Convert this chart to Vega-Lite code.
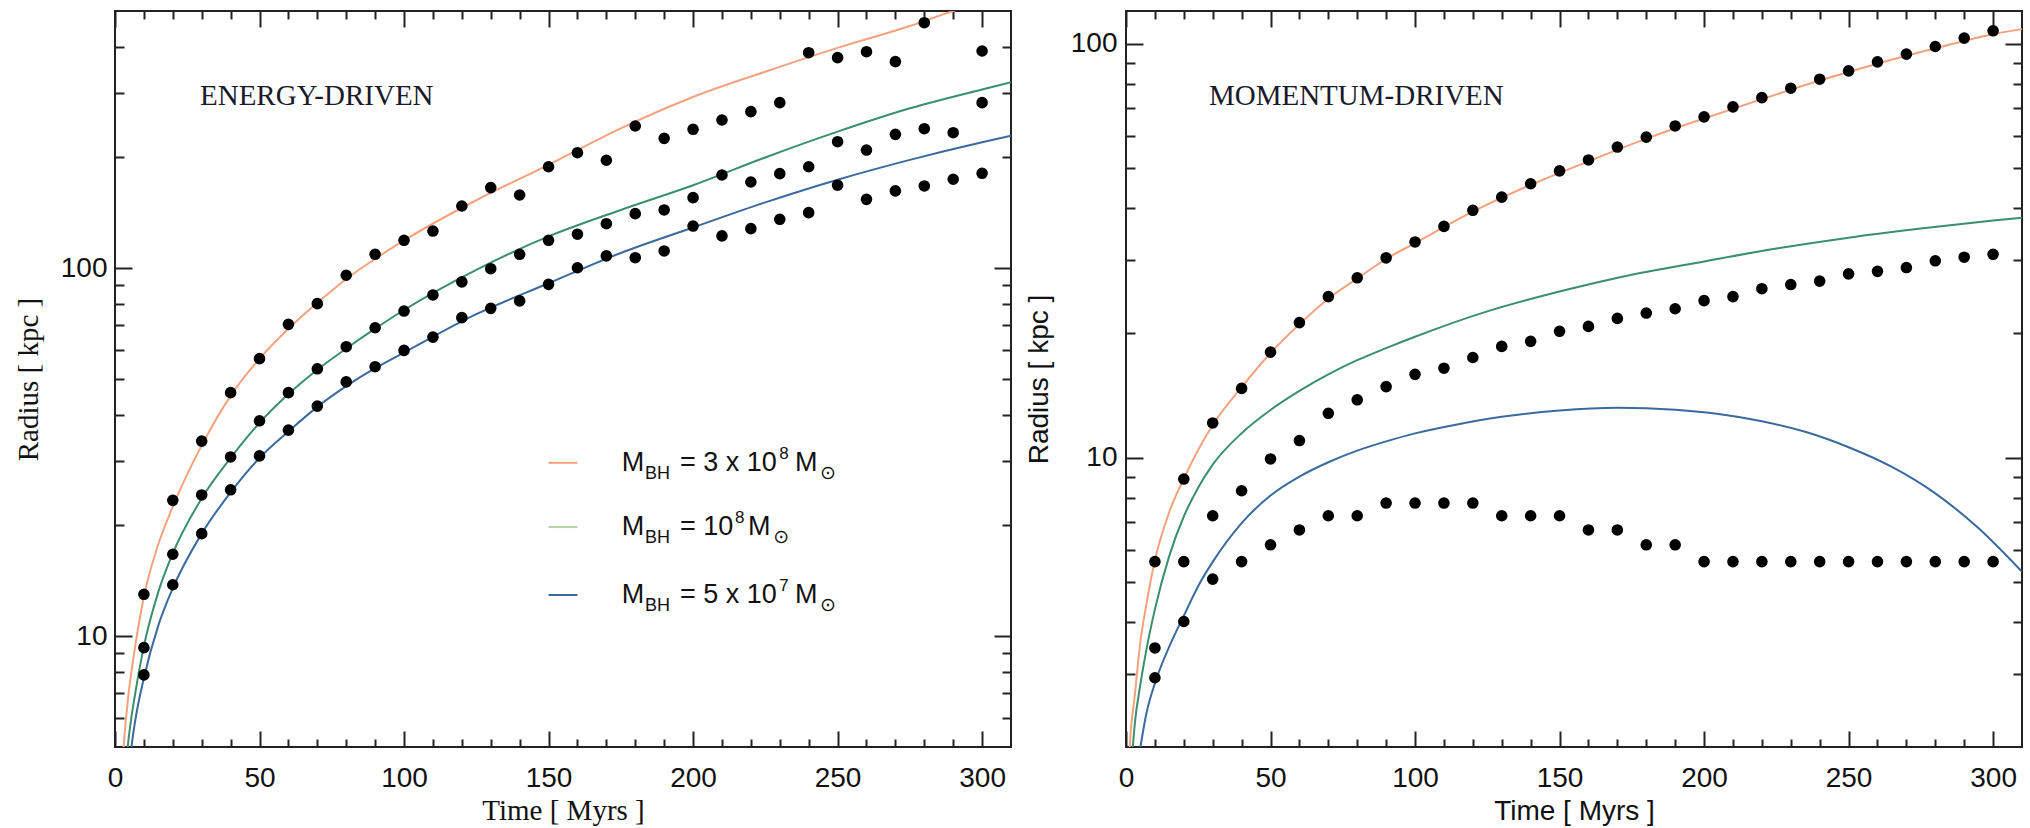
{
  "$schema": "https://vega.github.io/schema/vega-lite/v6.json",
  "padding": {"left": 13, "top": 9, "right": 0, "bottom": 0},
  "background": "white",
  "bounds": "flush",
  "spacing": 115,
  "config": {
    "view": {"stroke": "#222", "strokeWidth": 2},
    "axis": {"domain": false, "grid": false, "ticks": true, "tickColor": "#222", "tickWidth": 2, "labelFont": "Liberation Sans", "labelFontSize": 28, "labelColor": "#111", "titleColor": "#111", "titleFontWeight": "normal", "labelOverlap": false, "labelFlush": false},
    "text": {"font": "Liberation Sans", "color": "#111"}
  },
  "datasets": {
    "curvesE": [
      {"s": "3e8", "t": 2.2, "r": 3.8}, {"s": "3e8", "t": 3, "r": 5}, {"s": "3e8", "t": 4, "r": 6.2}, {"s": "3e8", "t": 5, "r": 7.3}, {"s": "3e8", "t": 7, "r": 9.4}, {"s": "3e8", "t": 10, "r": 12.8}, {"s": "3e8", "t": 15, "r": 17.8}, {"s": "3e8", "t": 20, "r": 22.5}, {"s": "3e8", "t": 30, "r": 33}, {"s": "3e8", "t": 40, "r": 45}, {"s": "3e8", "t": 50, "r": 56.8}, {"s": "3e8", "t": 60, "r": 68.5}, {"s": "3e8", "t": 70, "r": 80.5}, {"s": "3e8", "t": 80, "r": 93.5}, {"s": "3e8", "t": 90, "r": 106}, {"s": "3e8", "t": 100, "r": 119}, {"s": "3e8", "t": 125, "r": 153}, {"s": "3e8", "t": 150, "r": 191}, {"s": "3e8", "t": 175, "r": 240}, {"s": "3e8", "t": 200, "r": 292}, {"s": "3e8", "t": 225, "r": 342}, {"s": "3e8", "t": 250, "r": 397}, {"s": "3e8", "t": 275, "r": 455}, {"s": "3e8", "t": 290, "r": 500}, {"s": "3e8", "t": 310, "r": 550},
      {"s": "1e8", "t": 3.5, "r": 4}, {"s": "1e8", "t": 4.4, "r": 5}, {"s": "1e8", "t": 5, "r": 5.5}, {"s": "1e8", "t": 7, "r": 7.0}, {"s": "1e8", "t": 10, "r": 9.4}, {"s": "1e8", "t": 15, "r": 13.2}, {"s": "1e8", "t": 20, "r": 16.8}, {"s": "1e8", "t": 30, "r": 23.7}, {"s": "1e8", "t": 40, "r": 30.5}, {"s": "1e8", "t": 50, "r": 38}, {"s": "1e8", "t": 60, "r": 45.5}, {"s": "1e8", "t": 70, "r": 53}, {"s": "1e8", "t": 80, "r": 60.5}, {"s": "1e8", "t": 90, "r": 68.5}, {"s": "1e8", "t": 100, "r": 77}, {"s": "1e8", "t": 125, "r": 99}, {"s": "1e8", "t": 150, "r": 122}, {"s": "1e8", "t": 175, "r": 144}, {"s": "1e8", "t": 200, "r": 168}, {"s": "1e8", "t": 225, "r": 200}, {"s": "1e8", "t": 250, "r": 235}, {"s": "1e8", "t": 275, "r": 272}, {"s": "1e8", "t": 300, "r": 306}, {"s": "1e8", "t": 310, "r": 320},
      {"s": "5e7", "t": 4.8, "r": 4.2}, {"s": "5e7", "t": 5.7, "r": 5}, {"s": "5e7", "t": 7, "r": 5.9}, {"s": "5e7", "t": 10, "r": 7.7}, {"s": "5e7", "t": 15, "r": 10.7}, {"s": "5e7", "t": 20, "r": 13.5}, {"s": "5e7", "t": 30, "r": 19}, {"s": "5e7", "t": 40, "r": 24.6}, {"s": "5e7", "t": 50, "r": 30.5}, {"s": "5e7", "t": 60, "r": 36}, {"s": "5e7", "t": 70, "r": 42}, {"s": "5e7", "t": 80, "r": 47.8}, {"s": "5e7", "t": 90, "r": 53.5}, {"s": "5e7", "t": 100, "r": 59}, {"s": "5e7", "t": 125, "r": 75}, {"s": "5e7", "t": 150, "r": 91}, {"s": "5e7", "t": 175, "r": 110}, {"s": "5e7", "t": 200, "r": 129}, {"s": "5e7", "t": 225, "r": 151}, {"s": "5e7", "t": 250, "r": 174}, {"s": "5e7", "t": 275, "r": 197}, {"s": "5e7", "t": 300, "r": 220}, {"s": "5e7", "t": 310, "r": 229}
    ],
    "dotsE": [
      {"s": "3e8", "t": 10, "r": 13.0}, {"s": "3e8", "t": 20, "r": 23.4}, {"s": "3e8", "t": 30, "r": 33.9}, {"s": "3e8", "t": 40, "r": 45.9}, {"s": "3e8", "t": 50, "r": 56.8}, {"s": "3e8", "t": 60, "r": 70.4}, {"s": "3e8", "t": 70, "r": 80.1}, {"s": "3e8", "t": 80, "r": 95.7}, {"s": "3e8", "t": 90, "r": 109.1}, {"s": "3e8", "t": 100, "r": 119.1}, {"s": "3e8", "t": 110, "r": 126.2}, {"s": "3e8", "t": 120, "r": 147.6}, {"s": "3e8", "t": 130, "r": 165.6}, {"s": "3e8", "t": 140, "r": 158.1}, {"s": "3e8", "t": 150, "r": 188.7}, {"s": "3e8", "t": 160, "r": 206}, {"s": "3e8", "t": 170, "r": 196.5}, {"s": "3e8", "t": 180, "r": 243.5}, {"s": "3e8", "t": 190, "r": 225.4}, {"s": "3e8", "t": 200, "r": 238.5}, {"s": "3e8", "t": 210, "r": 252.8}, {"s": "3e8", "t": 220, "r": 266.3}, {"s": "3e8", "t": 230, "r": 281.8}, {"s": "3e8", "t": 240, "r": 385.2}, {"s": "3e8", "t": 250, "r": 373.4}, {"s": "3e8", "t": 260, "r": 387.6}, {"s": "3e8", "t": 270, "r": 364.2}, {"s": "3e8", "t": 280, "r": 464.7}, {"s": "3e8", "t": 300, "r": 389.3},
      {"s": "1e8", "t": 10, "r": 9.31}, {"s": "1e8", "t": 20, "r": 16.7}, {"s": "1e8", "t": 30, "r": 24.2}, {"s": "1e8", "t": 40, "r": 30.7}, {"s": "1e8", "t": 50, "r": 38.5}, {"s": "1e8", "t": 60, "r": 45.9}, {"s": "1e8", "t": 70, "r": 53.3}, {"s": "1e8", "t": 80, "r": 61.2}, {"s": "1e8", "t": 90, "r": 68.9}, {"s": "1e8", "t": 100, "r": 76.5}, {"s": "1e8", "t": 110, "r": 84.6}, {"s": "1e8", "t": 120, "r": 91.8}, {"s": "1e8", "t": 130, "r": 99.7}, {"s": "1e8", "t": 140, "r": 109.1}, {"s": "1e8", "t": 150, "r": 119.1}, {"s": "1e8", "t": 160, "r": 123.7}, {"s": "1e8", "t": 170, "r": 132.1}, {"s": "1e8", "t": 180, "r": 140.7}, {"s": "1e8", "t": 190, "r": 144}, {"s": "1e8", "t": 200, "r": 155.5}, {"s": "1e8", "t": 210, "r": 179.2}, {"s": "1e8", "t": 220, "r": 171.5}, {"s": "1e8", "t": 230, "r": 180.7}, {"s": "1e8", "t": 240, "r": 188.7}, {"s": "1e8", "t": 250, "r": 220.7}, {"s": "1e8", "t": 260, "r": 209.5}, {"s": "1e8", "t": 270, "r": 231.1}, {"s": "1e8", "t": 280, "r": 239.4}, {"s": "1e8", "t": 290, "r": 233.5}, {"s": "1e8", "t": 300, "r": 281.8},
      {"s": "5e7", "t": 10, "r": 7.85}, {"s": "5e7", "t": 20, "r": 13.8}, {"s": "5e7", "t": 30, "r": 19.0}, {"s": "5e7", "t": 40, "r": 25.0}, {"s": "5e7", "t": 50, "r": 30.9}, {"s": "5e7", "t": 60, "r": 36.3}, {"s": "5e7", "t": 70, "r": 42.2}, {"s": "5e7", "t": 80, "r": 49.1}, {"s": "5e7", "t": 90, "r": 54.0}, {"s": "5e7", "t": 100, "r": 59.8}, {"s": "5e7", "t": 110, "r": 65.0}, {"s": "5e7", "t": 120, "r": 73.4}, {"s": "5e7", "t": 130, "r": 77.8}, {"s": "5e7", "t": 140, "r": 81.5}, {"s": "5e7", "t": 150, "r": 90.4}, {"s": "5e7", "t": 160, "r": 100.3}, {"s": "5e7", "t": 170, "r": 108}, {"s": "5e7", "t": 180, "r": 106.8}, {"s": "5e7", "t": 190, "r": 111.4}, {"s": "5e7", "t": 200, "r": 130.2}, {"s": "5e7", "t": 210, "r": 122.4}, {"s": "5e7", "t": 220, "r": 128.1}, {"s": "5e7", "t": 230, "r": 135.8}, {"s": "5e7", "t": 240, "r": 141.6}, {"s": "5e7", "t": 250, "r": 168.1}, {"s": "5e7", "t": 260, "r": 153.9}, {"s": "5e7", "t": 270, "r": 162.2}, {"s": "5e7", "t": 280, "r": 167.3}, {"s": "5e7", "t": 290, "r": 174.5}, {"s": "5e7", "t": 300, "r": 181.1}
    ],
    "curvesM": [
      {"s": "3e8", "t": 1, "r": 1.8}, {"s": "3e8", "t": 1.3, "r": 2}, {"s": "3e8", "t": 3, "r": 2.65}, {"s": "3e8", "t": 5, "r": 3.6}, {"s": "3e8", "t": 7, "r": 4.4}, {"s": "3e8", "t": 10, "r": 5.65}, {"s": "3e8", "t": 15, "r": 7.4}, {"s": "3e8", "t": 20, "r": 8.9}, {"s": "3e8", "t": 30, "r": 12}, {"s": "3e8", "t": 40, "r": 14.8}, {"s": "3e8", "t": 50, "r": 17.9}, {"s": "3e8", "t": 60, "r": 21}, {"s": "3e8", "t": 70, "r": 24.2}, {"s": "3e8", "t": 80, "r": 27.1}, {"s": "3e8", "t": 90, "r": 30.2}, {"s": "3e8", "t": 100, "r": 33}, {"s": "3e8", "t": 120, "r": 39.3}, {"s": "3e8", "t": 140, "r": 45.6}, {"s": "3e8", "t": 160, "r": 52}, {"s": "3e8", "t": 180, "r": 59}, {"s": "3e8", "t": 200, "r": 66}, {"s": "3e8", "t": 220, "r": 73.5}, {"s": "3e8", "t": 240, "r": 81.5}, {"s": "3e8", "t": 260, "r": 89.5}, {"s": "3e8", "t": 280, "r": 97.5}, {"s": "3e8", "t": 300, "r": 105.5}, {"s": "3e8", "t": 310, "r": 108.5},
      {"s": "1e8", "t": 2, "r": 1.85}, {"s": "1e8", "t": 3, "r": 2.26}, {"s": "1e8", "t": 5, "r": 2.84}, {"s": "1e8", "t": 7, "r": 3.42}, {"s": "1e8", "t": 10, "r": 4.3}, {"s": "1e8", "t": 15, "r": 5.8}, {"s": "1e8", "t": 20, "r": 7.21}, {"s": "1e8", "t": 25, "r": 8.47}, {"s": "1e8", "t": 30, "r": 9.62}, {"s": "1e8", "t": 40, "r": 11.46}, {"s": "1e8", "t": 50, "r": 13.04}, {"s": "1e8", "t": 60, "r": 14.5}, {"s": "1e8", "t": 70, "r": 15.9}, {"s": "1e8", "t": 80, "r": 17.2}, {"s": "1e8", "t": 90, "r": 18.4}, {"s": "1e8", "t": 100, "r": 19.6}, {"s": "1e8", "t": 125, "r": 22.57}, {"s": "1e8", "t": 150, "r": 25.2}, {"s": "1e8", "t": 175, "r": 27.67}, {"s": "1e8", "t": 200, "r": 29.8}, {"s": "1e8", "t": 225, "r": 32.0}, {"s": "1e8", "t": 250, "r": 34.0}, {"s": "1e8", "t": 275, "r": 35.77}, {"s": "1e8", "t": 300, "r": 37.4}, {"s": "1e8", "t": 310, "r": 38.0},
      {"s": "5e7", "t": 4.5, "r": 1.9}, {"s": "5e7", "t": 5, "r": 2}, {"s": "5e7", "t": 7, "r": 2.4}, {"s": "5e7", "t": 10, "r": 2.85}, {"s": "5e7", "t": 15, "r": 3.5}, {"s": "5e7", "t": 20, "r": 4.15}, {"s": "5e7", "t": 25, "r": 4.9}, {"s": "5e7", "t": 30, "r": 5.6}, {"s": "5e7", "t": 40, "r": 6.95}, {"s": "5e7", "t": 50, "r": 8.1}, {"s": "5e7", "t": 60, "r": 9.0}, {"s": "5e7", "t": 70, "r": 9.75}, {"s": "5e7", "t": 80, "r": 10.4}, {"s": "5e7", "t": 90, "r": 10.95}, {"s": "5e7", "t": 100, "r": 11.45}, {"s": "5e7", "t": 115, "r": 12.05}, {"s": "5e7", "t": 130, "r": 12.55}, {"s": "5e7", "t": 150, "r": 13.0}, {"s": "5e7", "t": 170, "r": 13.2}, {"s": "5e7", "t": 190, "r": 13.05}, {"s": "5e7", "t": 205, "r": 12.75}, {"s": "5e7", "t": 220, "r": 12.25}, {"s": "5e7", "t": 235, "r": 11.55}, {"s": "5e7", "t": 250, "r": 10.6}, {"s": "5e7", "t": 265, "r": 9.5}, {"s": "5e7", "t": 280, "r": 8.2}, {"s": "5e7", "t": 295, "r": 6.75}, {"s": "5e7", "t": 310, "r": 5.3}
    ],
    "dotsM": [
      {"s": "3e8", "t": 10, "r": 5.61}, {"s": "3e8", "t": 20, "r": 8.88}, {"s": "3e8", "t": 30, "r": 12.13}, {"s": "3e8", "t": 40, "r": 14.7}, {"s": "3e8", "t": 50, "r": 17.99}, {"s": "3e8", "t": 60, "r": 21.2}, {"s": "3e8", "t": 70, "r": 24.5}, {"s": "3e8", "t": 80, "r": 27.2}, {"s": "3e8", "t": 90, "r": 30.4}, {"s": "3e8", "t": 100, "r": 33.2}, {"s": "3e8", "t": 110, "r": 36.2}, {"s": "3e8", "t": 120, "r": 39.6}, {"s": "3e8", "t": 130, "r": 42.6}, {"s": "3e8", "t": 140, "r": 45.9}, {"s": "3e8", "t": 150, "r": 49.3}, {"s": "3e8", "t": 160, "r": 52.4}, {"s": "3e8", "t": 170, "r": 56.3}, {"s": "3e8", "t": 180, "r": 59.5}, {"s": "3e8", "t": 190, "r": 63.3}, {"s": "3e8", "t": 200, "r": 66.6}, {"s": "3e8", "t": 210, "r": 70.4}, {"s": "3e8", "t": 220, "r": 74.1}, {"s": "3e8", "t": 230, "r": 78.1}, {"s": "3e8", "t": 240, "r": 82.1}, {"s": "3e8", "t": 250, "r": 86.0}, {"s": "3e8", "t": 260, "r": 90.4}, {"s": "3e8", "t": 270, "r": 94.4}, {"s": "3e8", "t": 280, "r": 98.5}, {"s": "3e8", "t": 290, "r": 103.2}, {"s": "3e8", "t": 300, "r": 107.5},
      {"s": "1e8", "t": 10, "r": 3.47}, {"s": "1e8", "t": 20, "r": 5.61}, {"s": "1e8", "t": 30, "r": 7.24}, {"s": "1e8", "t": 40, "r": 8.32}, {"s": "1e8", "t": 50, "r": 9.93}, {"s": "1e8", "t": 60, "r": 11.0}, {"s": "1e8", "t": 70, "r": 12.8}, {"s": "1e8", "t": 80, "r": 13.8}, {"s": "1e8", "t": 90, "r": 14.85}, {"s": "1e8", "t": 100, "r": 15.9}, {"s": "1e8", "t": 110, "r": 16.45}, {"s": "1e8", "t": 120, "r": 17.46}, {"s": "1e8", "t": 130, "r": 18.57}, {"s": "1e8", "t": 140, "r": 19.1}, {"s": "1e8", "t": 150, "r": 20.2}, {"s": "1e8", "t": 160, "r": 20.76}, {"s": "1e8", "t": 170, "r": 21.7}, {"s": "1e8", "t": 180, "r": 22.36}, {"s": "1e8", "t": 190, "r": 22.9}, {"s": "1e8", "t": 200, "r": 23.96}, {"s": "1e8", "t": 210, "r": 24.5}, {"s": "1e8", "t": 220, "r": 25.6}, {"s": "1e8", "t": 230, "r": 26.2}, {"s": "1e8", "t": 240, "r": 26.7}, {"s": "1e8", "t": 250, "r": 27.8}, {"s": "1e8", "t": 260, "r": 28.2}, {"s": "1e8", "t": 270, "r": 28.8}, {"s": "1e8", "t": 280, "r": 29.9}, {"s": "1e8", "t": 290, "r": 30.5}, {"s": "1e8", "t": 300, "r": 31.0},
      {"s": "5e7", "t": 10, "r": 2.94}, {"s": "5e7", "t": 20, "r": 4.02}, {"s": "5e7", "t": 30, "r": 5.09}, {"s": "5e7", "t": 40, "r": 5.61}, {"s": "5e7", "t": 50, "r": 6.16}, {"s": "5e7", "t": 60, "r": 6.69}, {"s": "5e7", "t": 70, "r": 7.24}, {"s": "5e7", "t": 80, "r": 7.24}, {"s": "5e7", "t": 90, "r": 7.77}, {"s": "5e7", "t": 100, "r": 7.77}, {"s": "5e7", "t": 110, "r": 7.77}, {"s": "5e7", "t": 120, "r": 7.77}, {"s": "5e7", "t": 130, "r": 7.24}, {"s": "5e7", "t": 140, "r": 7.24}, {"s": "5e7", "t": 150, "r": 7.24}, {"s": "5e7", "t": 160, "r": 6.69}, {"s": "5e7", "t": 170, "r": 6.69}, {"s": "5e7", "t": 180, "r": 6.16}, {"s": "5e7", "t": 190, "r": 6.16}, {"s": "5e7", "t": 200, "r": 5.61}, {"s": "5e7", "t": 210, "r": 5.61}, {"s": "5e7", "t": 220, "r": 5.61}, {"s": "5e7", "t": 230, "r": 5.61}, {"s": "5e7", "t": 240, "r": 5.61}, {"s": "5e7", "t": 250, "r": 5.61}, {"s": "5e7", "t": 260, "r": 5.61}, {"s": "5e7", "t": 270, "r": 5.61}, {"s": "5e7", "t": 280, "r": 5.61}, {"s": "5e7", "t": 290, "r": 5.61}, {"s": "5e7", "t": 300, "r": 5.61}
    ],
    "notes": [
      {"panel": "E", "text": "ENERGY-DRIVEN", "t": 29.4, "r": 294},
      {"panel": "M", "text": "MOMENTUM-DRIVEN", "t": 28.7, "r": 74.8}
    ],
    "swatch": [
      {"s": "3e8", "t": 150, "t2": 160, "r": 29.6},
      {"s": "1e8", "t": 150, "t2": 160, "r": 19.8},
      {"s": "5e7", "t": 150, "t2": 160, "r": 12.94}
    ],
    "legendText": [
      {"kind": "main", "text": "M", "t": 175.3, "r": 29.6}, {"kind": "sub", "text": "BH", "t": 183.4, "r": 29.6}, {"kind": "main", "text": "= 3 x 10", "t": 195.5, "r": 29.6}, {"kind": "sup", "text": "8", "t": 229.8, "r": 29.6}, {"kind": "main", "text": "M", "t": 235.3, "r": 29.6}, {"kind": "sun", "text": "⊙", "t": 243.9, "r": 29.6},
      {"kind": "main", "text": "M", "t": 175.3, "r": 19.8}, {"kind": "sub", "text": "BH", "t": 183.4, "r": 19.8}, {"kind": "main", "text": "= 10", "t": 195.5, "r": 19.8}, {"kind": "sup", "text": "8", "t": 214.5, "r": 19.8}, {"kind": "main", "text": "M", "t": 219.0, "r": 19.8}, {"kind": "sun", "text": "⊙", "t": 227.7, "r": 19.8},
      {"kind": "main", "text": "M", "t": 175.3, "r": 12.94}, {"kind": "sub", "text": "BH", "t": 183.4, "r": 12.94}, {"kind": "main", "text": "= 5 x 10", "t": 195.5, "r": 12.94}, {"kind": "sup", "text": "7", "t": 229.8, "r": 12.94}, {"kind": "main", "text": "M", "t": 235.3, "r": 12.94}, {"kind": "sun", "text": "⊙", "t": 243.9, "r": 12.94}
    ]
  },
  "hconcat": [
    {
      "width": 896,
      "height": 736,
      "encoding": {
        "x": {"field": "t", "type": "quantitative", "scale": {"domain": [0, 310], "nice": false, "zero": false}, "axis": null},
        "y": {"field": "r", "type": "quantitative", "scale": {"type": "log", "domain": [5, 500], "nice": false}, "axis": null}
      },
      "resolve": {"axis": {"x": "independent", "y": "independent"}},
      "layer": [
        {
          "data": {"name": "curvesE"},
          "mark": {"type": "line", "clip": true, "strokeWidth": 2, "interpolate": "monotone"},
          "encoding": {
            "x": {"field": "t", "type": "quantitative", "scale": {"domain": [0, 310], "nice": false, "zero": false},
              "axis": {"orient": "bottom", "values": [0,10,20,30,40,50,60,70,80,90,100,110,120,130,140,150,160,170,180,190,200,210,220,230,240,250,260,270,280,290,300],
                "tickSize": {"expr": "datum.value % 50 == 0 ? -16 : -8"}, "labelExpr": "datum.value % 50 == 0 ? '' + datum.value : ''", "labelPadding": 33,
                "title": "Time [ Myrs ]", "titleFont": "Liberation Serif", "titleFontSize": 29, "titleY": 72, "titleBaseline": "alphabetic"}},
            "y": {"field": "r", "type": "quantitative", "scale": {"type": "log", "domain": [5, 500], "nice": false},
              "axis": {"orient": "left", "values": [6,7,8,9,10,20,30,40,50,60,70,80,90,100,200,300,400],
                "tickSize": {"expr": "datum.value == 10 || datum.value == 100 ? -17 : -9"}, "labelExpr": "datum.value == 10 ? '10' : datum.value == 100 ? '100' : ''", "labelPadding": 25,
                "title": "Radius [ kpc ]", "titleFont": "Liberation Serif", "titleFontSize": 29, "titleX": -87, "titleBaseline": "middle"}},
            "color": {"field": "s", "type": "nominal", "scale": {"domain": ["3e8", "1e8", "5e7"], "range": ["#f4a27e", "#3a8f6c", "#3a6a9e"]}, "legend": null}
          }
        },
        {
          "data": {"name": "dotsE"},
          "mark": {"type": "circle", "size": 135, "color": "#000", "opacity": 1},
          "encoding": {
            "x": {"field": "t", "type": "quantitative", "scale": {"domain": [0, 310], "nice": false, "zero": false},
              "axis": {"orient": "top", "values": [0,10,20,30,40,50,60,70,80,90,100,110,120,130,140,150,160,170,180,190,200,210,220,230,240,250,260,270,280,290,300],
                "tickSize": {"expr": "datum.value % 50 == 0 ? -16 : -8"}, "labels": false, "title": null}},
            "y": {"field": "r", "type": "quantitative", "scale": {"type": "log", "domain": [5, 500], "nice": false},
              "axis": {"orient": "right", "values": [6,7,8,9,10,20,30,40,50,60,70,80,90,100,200,300,400],
                "tickSize": {"expr": "datum.value == 10 || datum.value == 100 ? -17 : -9"}, "labels": false, "title": null}}
          }
        },
        {
          "data": {"name": "notes"},
          "transform": [{"filter": "datum.panel == 'E'"}],
          "mark": {"type": "text", "font": "Liberation Serif", "fontSize": 29, "align": "left", "baseline": "middle", "color": "#1a1a2a"},
          "encoding": {"text": {"field": "text"}}
        },
        {
          "data": {"name": "swatch"},
          "mark": {"type": "rule", "strokeWidth": 2},
          "encoding": {
            "x2": {"field": "t2"},
            "stroke": {"field": "s", "type": "nominal", "scale": {"domain": ["3e8", "1e8", "5e7"], "range": ["#f4a27e", "#b2d4a4", "#35689c"]}, "legend": null}
          }
        },
        {
          "data": {"name": "legendText"},
          "transform": [{"filter": "datum.kind == 'main'"}],
          "mark": {"type": "text", "fontSize": 27, "align": "left", "baseline": "middle"},
          "encoding": {"text": {"field": "text"}}
        },
        {
          "data": {"name": "legendText"},
          "transform": [{"filter": "datum.kind == 'sub'"}],
          "mark": {"type": "text", "fontSize": 18, "align": "left", "baseline": "middle", "dy": 11},
          "encoding": {"text": {"field": "text"}}
        },
        {
          "data": {"name": "legendText"},
          "transform": [{"filter": "datum.kind == 'sup'"}],
          "mark": {"type": "text", "fontSize": 17, "align": "left", "baseline": "middle", "dy": -9},
          "encoding": {"text": {"field": "text"}}
        },
        {
          "data": {"name": "legendText"},
          "transform": [{"filter": "datum.kind == 'sun'"}],
          "mark": {"type": "text", "font": "DejaVu Sans", "fontSize": 19, "align": "left", "baseline": "middle", "dy": 10},
          "encoding": {"text": {"field": "text"}}
        }
      ]
    },
    {
      "width": 896,
      "height": 736,
      "encoding": {
        "x": {"field": "t", "type": "quantitative", "scale": {"domain": [0, 310], "nice": false, "zero": false}, "axis": null},
        "y": {"field": "r", "type": "quantitative", "scale": {"type": "log", "domain": [2, 120], "nice": false}, "axis": null}
      },
      "resolve": {"axis": {"x": "independent", "y": "independent"}},
      "layer": [
        {
          "data": {"name": "curvesM"},
          "mark": {"type": "line", "clip": true, "strokeWidth": 2, "interpolate": "monotone"},
          "encoding": {
            "x": {"field": "t", "type": "quantitative", "scale": {"domain": [0, 310], "nice": false, "zero": false},
              "axis": {"orient": "bottom", "values": [0,10,20,30,40,50,60,70,80,90,100,110,120,130,140,150,160,170,180,190,200,210,220,230,240,250,260,270,280,290,300],
                "tickSize": {"expr": "datum.value % 50 == 0 ? -16 : -8"}, "labelExpr": "datum.value % 50 == 0 ? '' + datum.value : ''", "labelPadding": 33,
                "title": "Time [ Myrs ]", "titleFont": "Liberation Sans", "titleFontSize": 28, "titleY": 72, "titleBaseline": "alphabetic"}},
            "y": {"field": "r", "type": "quantitative", "scale": {"type": "log", "domain": [2, 120], "nice": false},
              "axis": {"orient": "left", "values": [3,4,5,6,7,8,9,10,20,30,40,50,60,70,80,90,100],
                "tickSize": {"expr": "datum.value == 10 || datum.value == 100 ? -17 : -9"}, "labelExpr": "datum.value == 10 ? '10' : datum.value == 100 ? '100' : ''", "labelPadding": 26,
                "title": "Radius [ kpc ]", "titleFont": "Liberation Sans", "titleFontSize": 28, "titleX": -87, "titleBaseline": "middle"}},
            "color": {"field": "s", "type": "nominal", "scale": {"domain": ["3e8", "1e8", "5e7"], "range": ["#f4a27e", "#3a8f6c", "#3a6a9e"]}, "legend": null}
          }
        },
        {
          "data": {"name": "dotsM"},
          "mark": {"type": "circle", "size": 135, "color": "#000", "opacity": 1},
          "encoding": {
            "x": {"field": "t", "type": "quantitative", "scale": {"domain": [0, 310], "nice": false, "zero": false},
              "axis": {"orient": "top", "values": [0,10,20,30,40,50,60,70,80,90,100,110,120,130,140,150,160,170,180,190,200,210,220,230,240,250,260,270,280,290,300],
                "tickSize": {"expr": "datum.value % 50 == 0 ? -16 : -8"}, "labels": false, "title": null}},
            "y": {"field": "r", "type": "quantitative", "scale": {"type": "log", "domain": [2, 120], "nice": false},
              "axis": {"orient": "right", "values": [3,4,5,6,7,8,9,10,20,30,40,50,60,70,80,90,100],
                "tickSize": {"expr": "datum.value == 10 || datum.value == 100 ? -17 : -9"}, "labels": false, "title": null}}
          }
        },
        {
          "data": {"name": "notes"},
          "transform": [{"filter": "datum.panel == 'M'"}],
          "mark": {"type": "text", "font": "Liberation Serif", "fontSize": 29, "align": "left", "baseline": "middle", "color": "#1a1a2a"},
          "encoding": {"text": {"field": "text"}}
        }
      ]
    }
  ]
}
